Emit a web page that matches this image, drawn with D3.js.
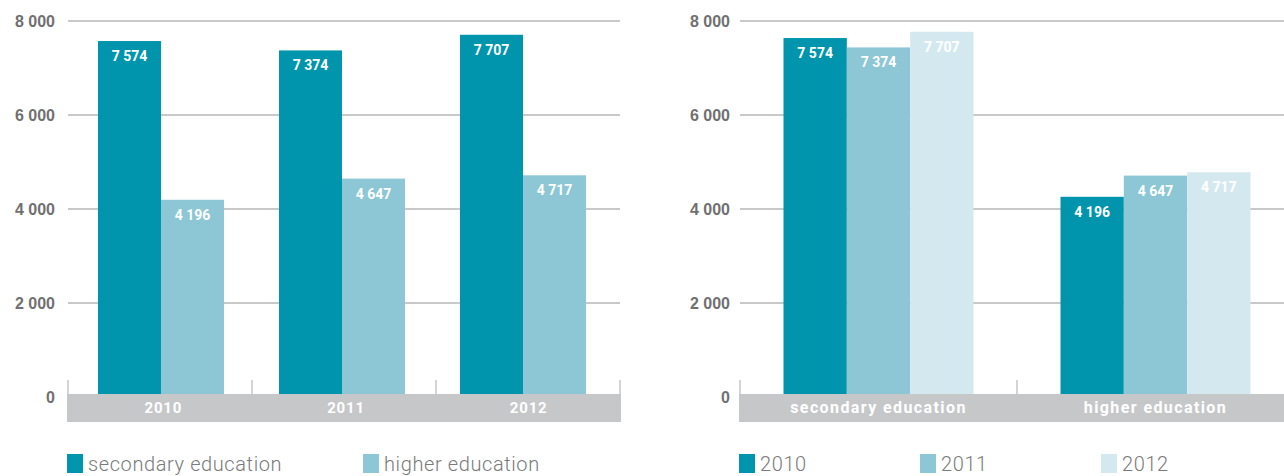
<!DOCTYPE html>
<html>
<head>
<meta charset="utf-8">
<script src="https://cdn.jsdelivr.net/npm/d3@7"></script>
<style>
  body { margin: 0; background: #fff; }
  svg { display: block; font-family: Roboto, "DejaVu Sans", sans-serif; }
</style>
</head>
<body>
<svg id="chart" width="1284" height="476"></svg>
<script>
// data
var years = ['2010', '2011', '2012'];
var levels = ['secondary education', 'higher education'];
var secondary = [7574, 7374, 7707];
var higher = [4196, 4647, 4717];
var yTicks = [0, 2000, 4000, 6000, 8000];

var colors = { dark: '#0095ad', mid: '#8dc7d5', light: '#d4e9ef' };
var yearColors = [colors.dark, colors.mid, colors.light];
var levelColors = [colors.dark, colors.mid];

var svg = d3.select('#chart');
var fmt = d3.formatLocale({ thousands: ' ', grouping: [3], decimal: '.', currency: ['', ''] }).format(',d');

// draws grid, y labels and ticks for one panel
function drawFrame(g, x0, x1, x, y, labelX) {
  // gridlines
  g.selectAll('.grid').data(yTicks.filter(function(d){ return d > 0; }))
    .enter().append('line')
    .attr('x1', x0).attr('x2', x1)
    .attr('y1', function(d){ return y(d); }).attr('y2', function(d){ return y(d); })
    .attr('stroke', '#c9c9c9').attr('stroke-width', 2);

  // y labels via axis
  var ax = g.append('g').attr('transform', 'translate(' + labelX + ',0)')
    .call(d3.axisLeft(y).tickValues(yTicks).tickSize(0).tickPadding(0).tickFormat(fmt));
  ax.select('.domain').remove();
  ax.selectAll('text')
    .attr('fill', '#707070')
    .style('font-size', '16px').style('font-weight', 'bold')
    .attr('dy', '0.35em');

  // vertical ticks between categories
  var edges = x.domain().map(function(d){ return x(d); });
  edges.push(x(x.domain()[x.domain().length - 1]) + x.step());
  g.selectAll('.vtick').data(edges).enter().append('line')
    .attr('x1', function(d){ return d; }).attr('x2', function(d){ return d; })
    .attr('y1', 380).attr('y2', 395)
    .attr('stroke', '#c6c6c6').attr('stroke-width', 1.5);
}

function drawBand(g, bandX0, bandX1, xLab, cats, size, spacing) {
  g.append('rect')
    .attr('x', bandX0).attr('y', 394)
    .attr('width', bandX1 - bandX0).attr('height', 28)
    .attr('fill', '#c6c7c9');
  g.selectAll('.cat').data(cats).enter().append('text')
    .attr('x', function(d){ return xLab(d) + xLab.bandwidth() / 2; })
    .attr('y', 413)
    .attr('text-anchor', 'middle')
    .attr('fill', '#fff')
    .style('font-size', size + 'px').style('font-weight', 'bold')
    .style('letter-spacing', spacing + 'px')
    .text(function(d){ return d; });
}

function drawBars(g, cats, series, x, xi, y, colorsArr) {
  var groups = g.selectAll('.grp').data(cats).enter().append('g')
    .attr('transform', function(d){ return 'translate(' + x(d) + ',0)'; });
  groups.each(function(cat, ci) {
    var grp = d3.select(this);
    series.forEach(function(s, si) {
      var v = s[ci];
      grp.append('rect')
        .attr('x', xi(si)).attr('width', xi.bandwidth())
        .attr('y', y(v)).attr('height', 394 - y(v))
        .attr('fill', colorsArr[si]);
      grp.append('text')
        .attr('x', xi(si) + xi.bandwidth() / 2)
        .attr('y', y(v) + 20)
        .attr('text-anchor', 'middle')
        .attr('fill', '#fff')
        .style('font-size', '14px').style('font-weight', 'bold')
        .text(fmt(v));
    });
  });
}

// ---------- left panel: by year ----------
var gL = svg.append('g');
var xL = d3.scaleBand().domain(years).range([68, 620]);
// bars sit on a slightly tighter step than the axis bands
var xLbars = d3.scaleBand().domain(years).range([70, 613]);
var xLlab = d3.scaleBand().domain(years).range([72, 620]);
var xLi = d3.scaleBand().domain([0, 1]).range([28, 154]);
var yL = d3.scaleLinear().domain([0, 8000]).range([397, 21]);
drawFrame(gL, 68, 620, xL, yL, 55);
drawBars(gL, years, [secondary, higher], xLbars, xLi, yL, levelColors);
drawBand(gL, 67, 621, xLlab, years, 15, 0.8);

// ---------- right panel: by level ----------
var gR = svg.append('g');
var xR = d3.scaleBand().domain(levels).range([740, 1294]);
var xRi = d3.scaleBand().domain([0, 1, 2]).range([43.5, 233.5]);
var yR = d3.scaleLinear().domain([0, 8000]).range([397, 21]);
var yRb = d3.scaleLinear().domain([0, 8000]).range([394, 18]);
drawFrame(gR, 740, 1284, xR, yR, 730);
// re-pack data by level
var bySeries = years.map(function(yr, i){ return [secondary[i], higher[i]]; });
drawBars(gR, levels, bySeries, xR, xRi, yRb, yearColors);
drawBand(gR, 739, 1284, xR, levels, 16, 1.4);

// ---------- legends ----------
function legend(items, cols, xs) {
  var lg = svg.append('g');
  items.forEach(function(t, i) {
    lg.append('rect').attr('x', xs[i]).attr('y', 454).attr('width', 16).attr('height', 19).attr('fill', cols[i]);
    lg.append('text').attr('x', xs[i] + 21).attr('y', 471)
      .attr('fill', '#7a7a7a')
      .style('font-size', '20px').style('font-weight', '300')
      .style('letter-spacing', '0.6px')
      .text(t);
  });
}
legend(levels, levelColors, [67, 363]);
legend(years, yearColors, [739, 920, 1101]);
</script>
</body>
</html>
